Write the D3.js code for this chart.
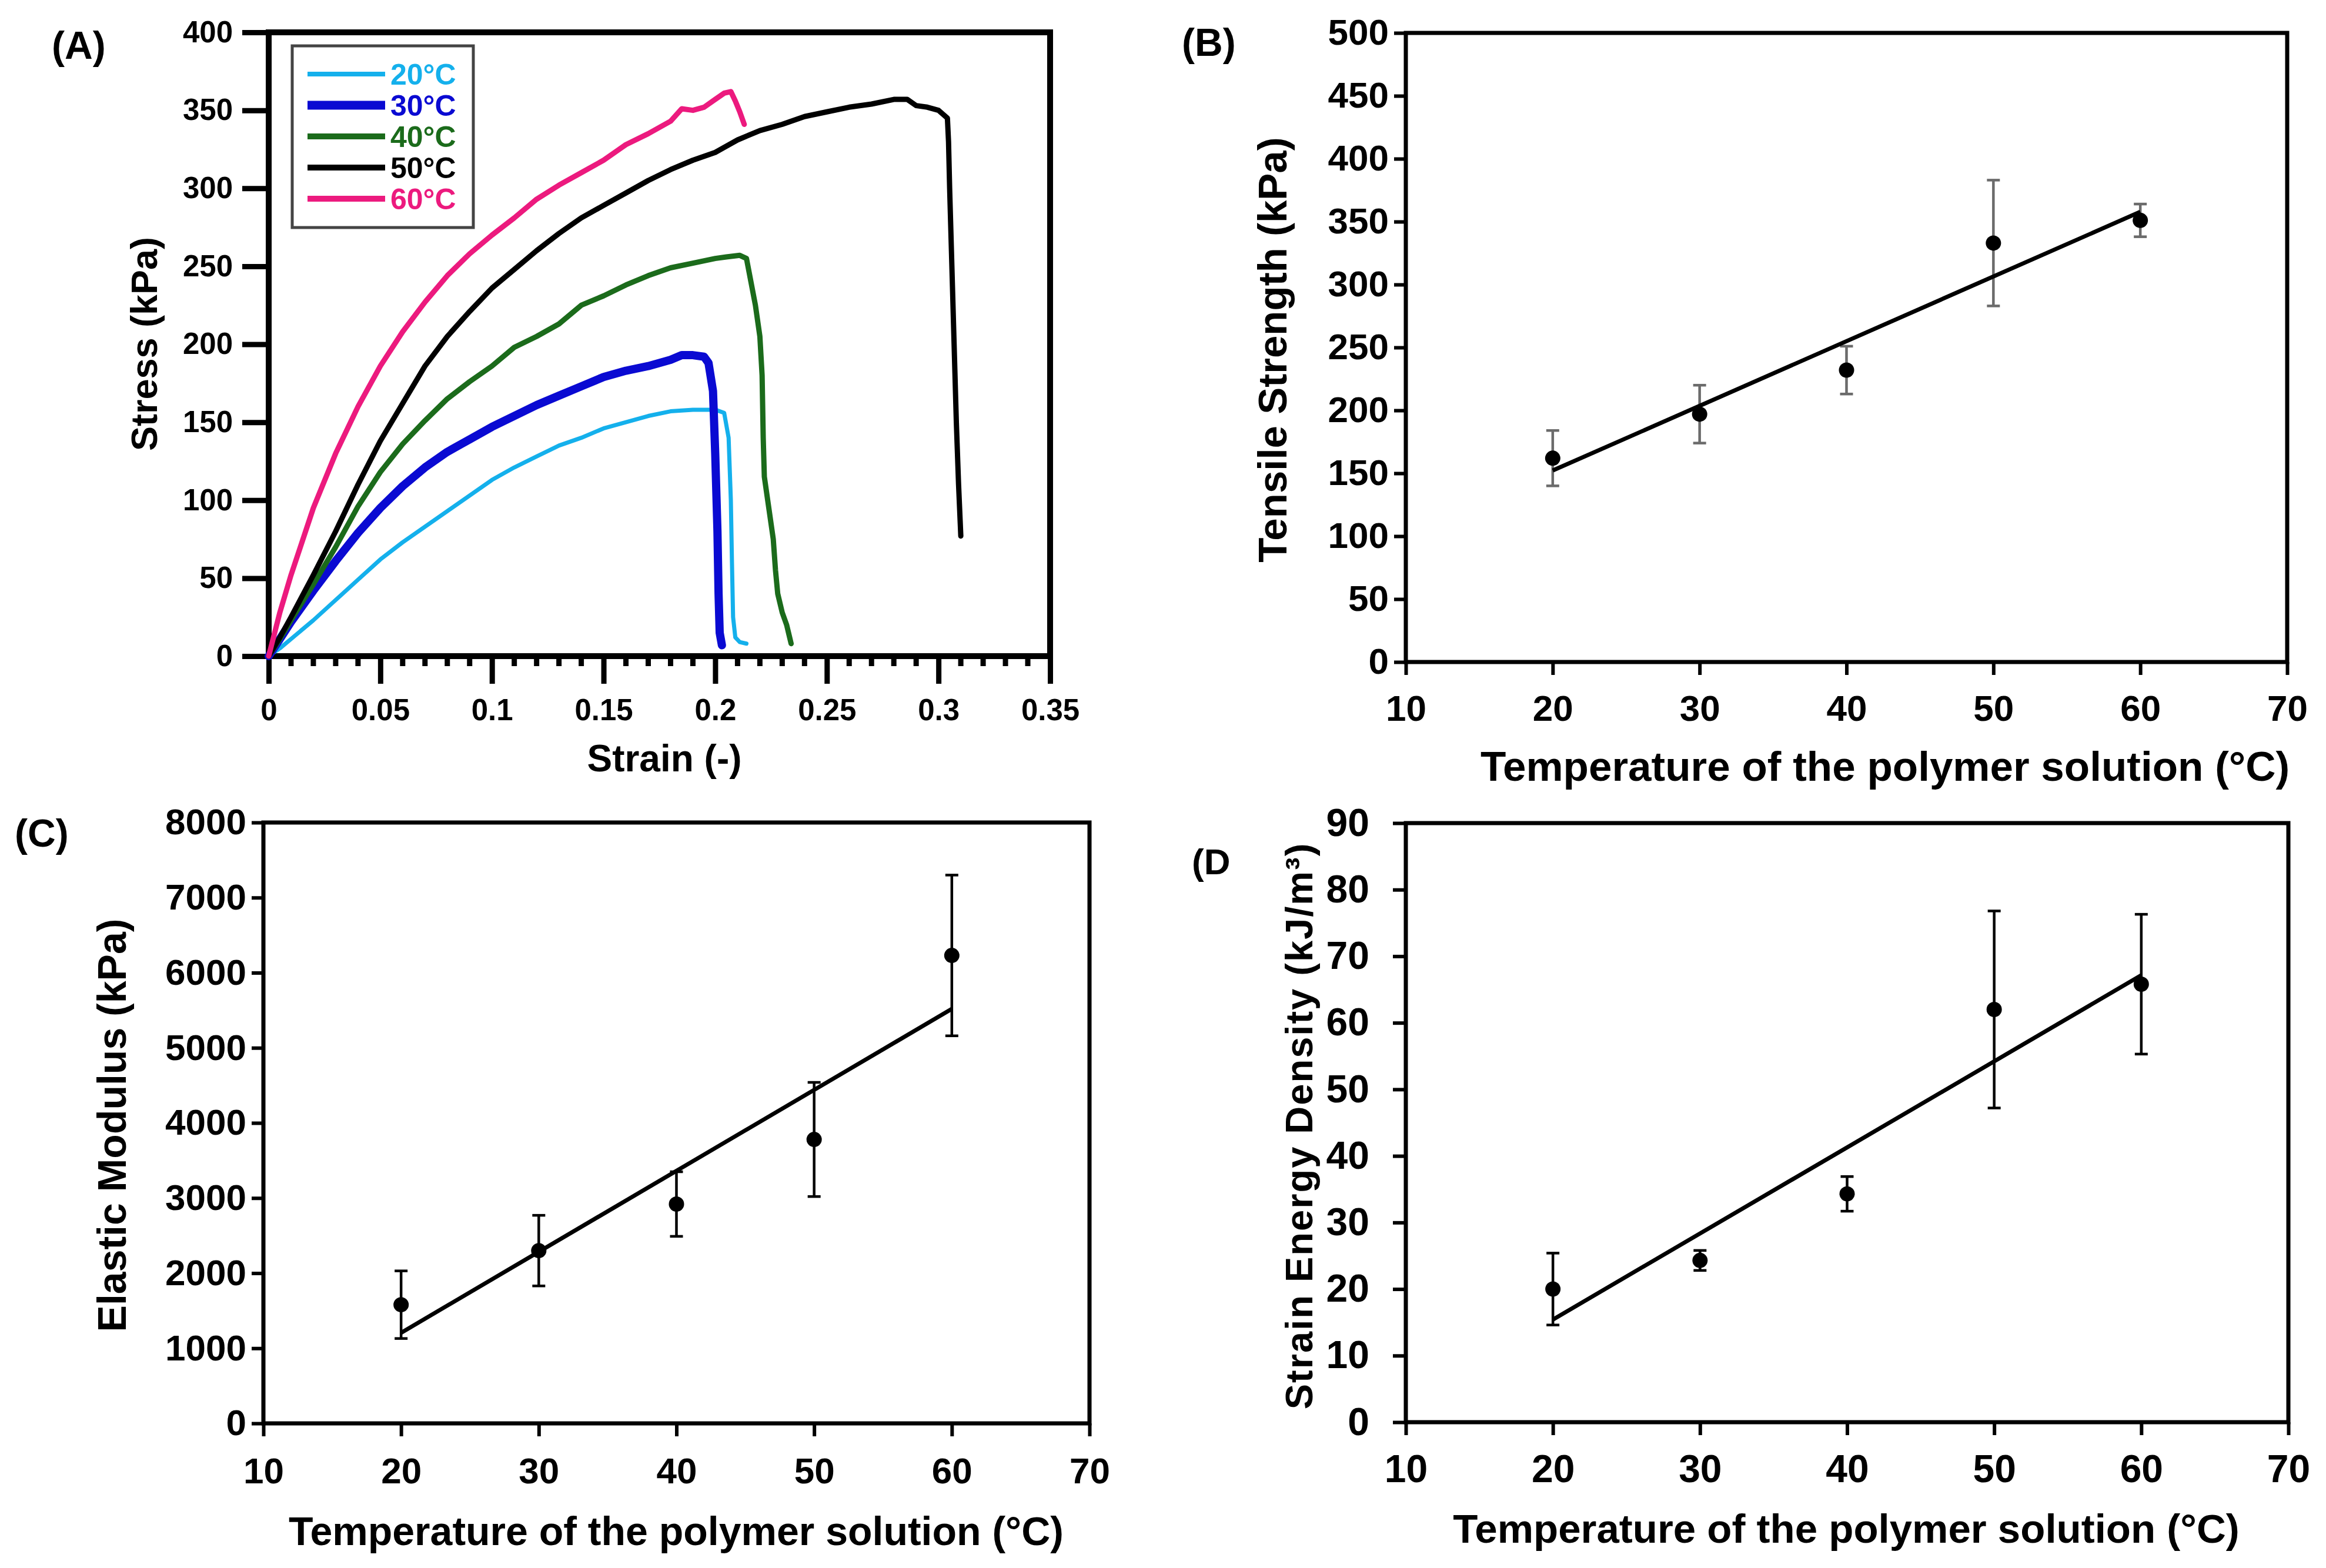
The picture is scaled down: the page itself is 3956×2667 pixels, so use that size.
<!DOCTYPE html>
<html><head><meta charset="utf-8">
<script src="https://cdn.jsdelivr.net/npm/d3@7"></script>
<style>
html,body{margin:0;padding:0;background:#fff}
text{font-family:"Liberation Sans",Arial,Helvetica,sans-serif;font-weight:bold;fill:#000}
</style>
</head><body>
<svg id="chart" width="3956" height="2667" xmlns="http://www.w3.org/2000/svg"></svg>
<script>
// ---------------- DATA ----------------
const seriesLabels = ["20°C", "30°C", "40°C", "50°C", "60°C"];
const seriesColors = ["#14b0ec", "#0a0ad2", "#1b6b1b", "#000000", "#ec1a7e"];

// Panel A: stress-strain curves [strain (-), stress (kPa)]
const curve20 = [[0,0],[0.005,5],[0.01,11],[0.02,23],[0.03,36],[0.04,49],[0.05,62],[0.06,73],[0.07,83],[0.08,93],[0.09,103],[0.1,113],[0.11,121],[0.12,128],[0.13,135],[0.14,140],[0.15,146],[0.16,150],[0.17,154],[0.18,157],[0.19,158],[0.2,158],[0.204,156],[0.206,140],[0.207,100],[0.2075,60],[0.208,25],[0.209,12],[0.211,9],[0.214,8]];
const curve30 = [[0,0],[0.005,11],[0.01,22],[0.02,42],[0.03,61],[0.04,79],[0.05,95],[0.06,109],[0.07,121],[0.08,131],[0.09,139],[0.1,147],[0.11,154],[0.12,161],[0.13,167],[0.14,173],[0.15,179],[0.16,183],[0.17,186],[0.18,190],[0.185,193],[0.19,193],[0.195,192],[0.197,188],[0.199,170],[0.2,130],[0.201,80],[0.2015,40],[0.202,15],[0.203,7]];
const curve40 = [[0,0],[0.005,11],[0.01,23],[0.02,46],[0.03,70],[0.04,96],[0.05,118],[0.06,136],[0.07,151],[0.08,165],[0.09,176],[0.1,186],[0.11,198],[0.12,205],[0.13,213],[0.14,225],[0.15,231],[0.16,238],[0.17,244],[0.18,249],[0.19,252],[0.2,255],[0.205,256],[0.211,257],[0.214,255],[0.216,240],[0.218,225],[0.22,205],[0.221,180],[0.2215,140],[0.222,115],[0.224,95],[0.226,75],[0.227,55],[0.228,40],[0.23,28],[0.232,20],[0.233,14],[0.234,8]];
const curve50 = [[0,0],[0.005,12],[0.01,25],[0.02,52],[0.03,80],[0.04,110],[0.05,138],[0.06,162],[0.07,186],[0.08,205],[0.09,221],[0.1,236],[0.11,248],[0.12,260],[0.13,271],[0.14,281],[0.15,289],[0.16,297],[0.17,305],[0.18,312],[0.19,318],[0.2,323],[0.21,331],[0.22,337],[0.23,341],[0.24,346],[0.25,349],[0.26,352],[0.27,354],[0.28,357],[0.286,357],[0.29,353],[0.295,352],[0.3,350],[0.304,345],[0.3045,330],[0.305,300],[0.306,250],[0.307,200],[0.308,150],[0.309,110],[0.31,77]];
const curve60 = [[0,0],[0.005,28],[0.01,52],[0.02,95],[0.03,130],[0.04,160],[0.05,186],[0.06,208],[0.07,227],[0.08,244],[0.09,258],[0.1,270],[0.11,281],[0.12,293],[0.13,302],[0.14,310],[0.15,318],[0.16,328],[0.17,335],[0.18,343],[0.185,351],[0.19,350],[0.195,352],[0.2,357],[0.204,361],[0.207,362],[0.209,356],[0.211,349],[0.213,341]];
const curveWidths = [7, 14, 9, 9, 9];

const strainTicks = [0, 0.05, 0.1, 0.15, 0.2, 0.25, 0.3, 0.35];
const strainTickLabels = ["0", "0.05", "0.1", "0.15", "0.2", "0.25", "0.3", "0.35"];
const stressTicks = [0, 50, 100, 150, 200, 250, 300, 350, 400];

// Panels B-D
const temperatures = [20, 30, 40, 50, 60];
const tempTicks = [10, 20, 30, 40, 50, 60, 70];
const tensileStrength = [162, 197, 232, 333, 351];
const tensileErr = [22, 23, 19, 50, 13];
const tensileTicks = [0, 50, 100, 150, 200, 250, 300, 350, 400, 450, 500];
const elasticModulus = [1580, 2300, 2920, 3780, 6230];
const modulusErr = [450, 470, 430, 760, 1070];
const modulusTicks = [0, 1000, 2000, 3000, 4000, 5000, 6000, 7000, 8000];
const energyDensity = [20, 24.3, 34.3, 62, 65.8];
const energyErr = [5.4, 1.5, 2.6, 14.8, 10.5];
const energyTicks = [0, 10, 20, 30, 40, 50, 60, 70, 80, 90];

// ---------------- DRAWING ----------------
const svg = d3.select("#chart");
svg.append("rect").attr("width", 3956).attr("height", 2667).attr("fill", "#fff");

function axes(o) {
  const x = d3.scaleLinear().domain(o.xDomain).range([o.left, o.right]);
  const y = d3.scaleLinear().domain(o.yDomain).range([o.bottom, o.top]);
  const gx = svg.append("g").attr("transform", `translate(0,${o.bottom})`)
    .call(d3.axisBottom(x).tickValues(o.xTicks)
      .tickFormat((d, i) => o.xLabels ? o.xLabels[i] : d)
      .tickSize(o.xTickLen).tickSizeOuter(0).tickPadding(o.xPad));
  gx.select(".domain").remove();
  gx.attr("font-size", o.tickFont).attr("font-family", null);
  gx.selectAll(".tick line").attr("stroke", "#000").attr("stroke-width", o.tickW);
  if (o.xMinor) {
    gx.selectAll("line.minor").data(o.xMinor).enter().append("line")
      .attr("class", "minor").attr("x1", d => x(d)).attr("x2", d => x(d))
      .attr("y1", 0).attr("y2", o.xMinorLen).attr("stroke", "#000").attr("stroke-width", o.tickW);
  }
  const gy = svg.append("g").attr("transform", `translate(${o.left},0)`)
    .call(d3.axisLeft(y).tickValues(o.yTicks).tickFormat(d => d)
      .tickSize(o.yTickLen).tickSizeOuter(0).tickPadding(o.yPad));
  gy.select(".domain").remove();
  gy.attr("font-size", o.tickFont).attr("font-family", null);
  gy.selectAll(".tick line").attr("stroke", "#000").attr("stroke-width", o.tickW);
  svg.append("rect").attr("x", o.left).attr("y", o.top)
    .attr("width", o.right - o.left).attr("height", o.bottom - o.top)
    .attr("fill", "none").attr("stroke", "#000").attr("stroke-width", o.frameW);
  return {x, y};
}

function label(txt, x, y, size, rotate, anchor) {
  const t = svg.append("text").text(txt).attr("font-size", size)
    .attr("text-anchor", anchor || "middle");
  if (rotate) t.attr("transform", `translate(${x},${y}) rotate(-90)`);
  else t.attr("x", x).attr("y", y);
  return t;
}

function regression(xs, ys) {
  const mx = d3.mean(xs), my = d3.mean(ys);
  const b = d3.sum(xs.map((v, i) => (v - mx) * (ys[i] - my))) / d3.sum(xs.map(v => (v - mx) ** 2));
  return v => my + b * (v - mx);
}

function scatterPanel(o, vals, errs, errColor) {
  const {x, y} = axes(o);
  const f = regression(temperatures, vals);
  const ext = d3.extent(temperatures);
  const g = svg.append("g");
  temperatures.forEach((t, i) => {
    const lo = vals[i] - errs[i], hi = vals[i] + errs[i];
    g.append("line").attr("x1", x(t)).attr("x2", x(t)).attr("y1", y(lo)).attr("y2", y(hi))
      .attr("stroke", errColor).attr("stroke-width", 4.5);
    [lo, hi].forEach(v => g.append("line").attr("x1", x(t) - 11).attr("x2", x(t) + 11)
      .attr("y1", y(v)).attr("y2", y(v)).attr("stroke", errColor).attr("stroke-width", 4.5));
  });
  svg.append("line").attr("x1", x(ext[0])).attr("y1", y(f(ext[0])))
    .attr("x2", x(ext[1])).attr("y2", y(f(ext[1])))
    .attr("stroke", "#000").attr("stroke-width", 7);
  svg.append("g").selectAll("circle").data(temperatures).enter().append("circle")
    .attr("cx", d => x(d)).attr("cy", (d, i) => y(vals[i])).attr("r", 13).attr("fill", "#000");
}

// ---- Panel A ----
(function () {
  const o = {left: 457, right: 1786, top: 55, bottom: 1116,
    xDomain: [0, 0.35], yDomain: [0, 400],
    xTicks: strainTicks, xLabels: strainTickLabels, yTicks: stressTicks,
    xMinor: d3.range(0, 35).filter(i => i % 5 !== 0).map(i => i / 100),
    xTickLen: 47, xMinorLen: 17, yTickLen: 45, xPad: 26, yPad: 16,
    tickFont: 51, tickW: 9, frameW: 10};
  const {x, y} = axes(o);
  const line = d3.line().x(d => x(d[0])).y(d => y(d[1]));
  const curves = [curve20, curve30, curve40, curve50, curve60];
  curves.forEach((c, i) => {
    svg.append("path").datum(c).attr("d", line).attr("fill", "none")
      .attr("stroke", seriesColors[i]).attr("stroke-width", curveWidths[i])
      .attr("stroke-linejoin", "round").attr("stroke-linecap", "round");
  });
  const lg = svg.append("g");
  lg.append("rect").attr("x", 497).attr("y", 78).attr("width", 308).attr("height", 309)
    .attr("fill", "#fff").attr("stroke", "#444").attr("stroke-width", 5);
  const rowY = d3.scaleLinear().domain([0, 4]).range([126, 338]);
  seriesLabels.forEach((s, i) => {
    lg.append("line").attr("x1", 523).attr("x2", 655).attr("y1", rowY(i)).attr("y2", rowY(i))
      .attr("stroke", seriesColors[i]).attr("stroke-width", curveWidths[i] + 1);
    lg.append("text").text(s).attr("x", 664).attr("y", rowY(i) + 18)
      .attr("font-size", 50).style("fill", seriesColors[i]);
  });
  label("Strain (-)", 1130, 1312, 64);
  label("Stress (kPa)", 267, 585, 63, true);
  label("(A)", 88, 100, 66, false, "start");
})();

// ---- Panel B ----
scatterPanel({left: 2391, right: 3890, top: 56, bottom: 1126,
  xDomain: [10, 70], yDomain: [0, 500], xTicks: tempTicks, yTicks: tensileTicks,
  xTickLen: 22, yTickLen: 20, xPad: 34, yPad: 9, tickFont: 62, tickW: 6, frameW: 7},
  tensileStrength, tensileErr, "#6b6b6b");
label("Temperature of the polymer solution (°C)", 3206, 1328, 71);
label("Tensile Strength (kPa)", 2188, 595, 69, true);
label("(B)", 2010, 95, 66, false, "start");

// ---- Panel C ----
scatterPanel({left: 448, right: 1853, top: 1399, bottom: 2421,
  xDomain: [10, 70], yDomain: [0, 8000], xTicks: tempTicks, yTicks: modulusTicks,
  xTickLen: 22, yTickLen: 20, xPad: 36, yPad: 9, tickFont: 62, tickW: 6, frameW: 7},
  elasticModulus, modulusErr, "#000");
label("Temperature of the polymer solution (°C)", 1150, 2628, 68);
label("Elastic Modulus (kPa)", 214, 1914, 68, true);
label("(C)", 25, 1440, 66, false, "start");

// ---- Panel D ----
scatterPanel({left: 2391, right: 3892, top: 1400, bottom: 2419,
  xDomain: [10, 70], yDomain: [0, 90], xTicks: tempTicks, yTicks: energyTicks,
  xTickLen: 22, yTickLen: 22, xPad: 33, yPad: 40, tickFont: 66, tickW: 6, frameW: 7},
  energyDensity, energyErr, "#000");
label("Temperature of the polymer solution (°C)", 3140, 2624, 69);
label("Strain Energy Density (kJ/m³)", 2232, 1915, 65, true).attr("letter-spacing", 2);
label("(D", 2027, 1487, 62, false, "start");
</script>
</body></html>
